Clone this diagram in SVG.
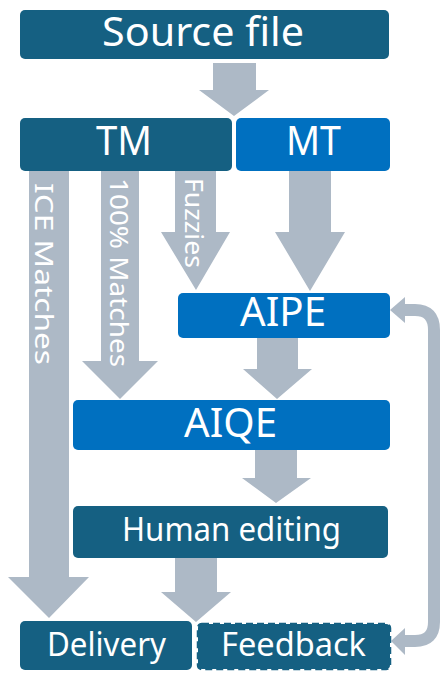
<svg xmlns="http://www.w3.org/2000/svg" width="441" height="673" viewBox="0 0 441 673">
<style>
.dark{fill:#156082}
.blue{fill:#0070C0}
.arr{fill:#ADB9C6}
.t{font-family:"Noto Sans","Open Sans","Liberation Sans",sans-serif;fill:#FFFFFF;text-anchor:middle}
.big{font-size:40px}
.mid{font-size:32px}
.lab{font-family:"Noto Sans","Open Sans","Liberation Sans",sans-serif;fill:#FFFFFF;font-size:25px}
</style>
<g id="connectors">
<polygon class="arr" points="213,63 256,63 256,90 269,90 234,116 199,90 213,90"/>
<polygon id="ice" class="arr" points="29,171 69,171 69,577 89,577 49,618 8,577 29,577"/>
<polygon id="full" class="arr" points="101,171 139,171 139,361 158,361 120,399 82,361 101,361"/>
<polygon id="fuzzy" class="arr" points="175,171 216,171 216,232 230,232 196,290 161,232 175,232"/>
<polygon class="arr" points="289,171 331,171 331,232 345,232 310,291 275,232 289,232"/>
<polygon class="arr" points="257,338 298,338 298,369 312,369 277,399 243,369 257,369"/>
<polygon class="arr" points="255,450 297,450 297,478 311,478 276,503 242,478 255,478"/>
<polygon class="arr" points="175,558 217,558 217,592 231,592 196,622 161,592 175,592"/>
<path d="M404 641 H415 Q434 641 434 622 V330 Q434 310 415 310 H404" fill="none" stroke="#ADB9C6" stroke-width="12"/>
<polygon class="arr" points="391,641 405,628 405,655"/>
<polygon class="arr" points="390,310 405,297 405,323"/>
<text class="lab" transform="translate(35,183) rotate(90)" textLength="182" lengthAdjust="spacingAndGlyphs">ICE Matches</text>
<text class="lab" transform="translate(110,178) rotate(90)" textLength="189" lengthAdjust="spacingAndGlyphs">100% Matches</text>
<text class="lab" transform="translate(185,178) rotate(90)" textLength="90" lengthAdjust="spacingAndGlyphs">Fuzzies</text>
</g>
<g id="source"><rect class="dark" x="20" y="10" width="369" height="49" rx="5"/><text class="t big" x="203" y="46" textLength="202" lengthAdjust="spacingAndGlyphs">Source file</text></g>
<g id="tm"><rect class="dark" x="20" y="118" width="212" height="53" rx="5"/><text class="t big" x="124" y="155" textLength="56" lengthAdjust="spacingAndGlyphs">TM</text></g>
<g id="mt"><rect class="blue" x="236" y="118" width="154" height="53" rx="5"/><text class="t big" x="313.5" y="155" textLength="55" lengthAdjust="spacingAndGlyphs">MT</text></g>
<g id="aipe"><rect class="blue" x="178" y="293" width="212" height="45" rx="5"/><text class="t big" x="283" y="326" textLength="86" lengthAdjust="spacingAndGlyphs">AIPE</text></g>
<g id="aiqe"><rect class="blue" x="73" y="400" width="317" height="50" rx="5"/><text class="t big" x="230.5" y="437" textLength="93" lengthAdjust="spacingAndGlyphs">AIQE</text></g>
<g id="human"><rect class="dark" x="73" y="506" width="315" height="52" rx="5"/><text class="t mid" x="231.5" y="541" textLength="219" lengthAdjust="spacingAndGlyphs">Human editing</text></g>
<g id="delivery"><rect class="dark" x="20" y="621" width="172" height="49" rx="5"/><text class="t mid" x="106.5" y="656" textLength="119" lengthAdjust="spacingAndGlyphs">Delivery</text></g>
<g id="feedback"><rect class="dark" x="198" y="624" width="192" height="45" rx="4" stroke="#156082" stroke-width="2.5" stroke-dasharray="7 4"/><text class="t mid" x="293.5" y="656" textLength="145" lengthAdjust="spacingAndGlyphs">Feedback</text></g>
</svg>
